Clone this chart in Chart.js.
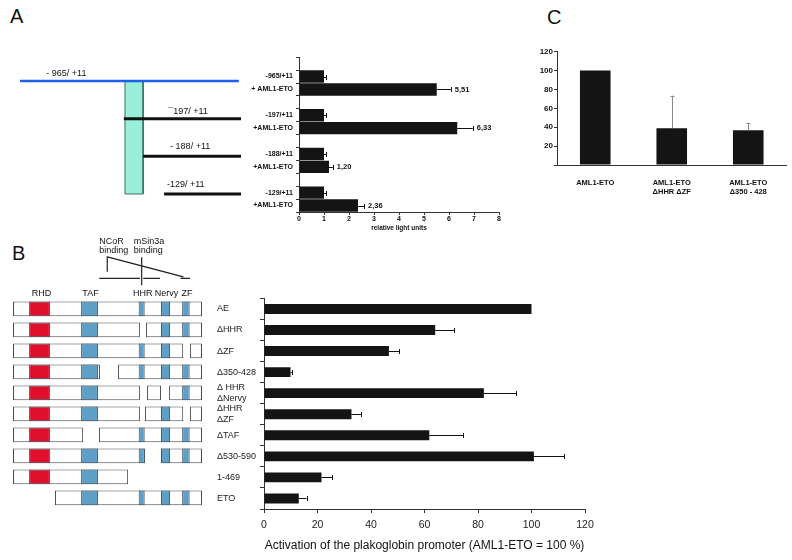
<!DOCTYPE html>
<html>
<head>
<meta charset="utf-8">
<script src="https://cdn.jsdelivr.net/npm/chart.js@4.4.1/dist/chart.umd.min.js"></script>
<style>
body { margin: 0; background: #fff; width: 792px; height: 560px; position: relative; overflow: hidden;
       font-family: "Liberation Sans", Arial, sans-serif; }
canvas { position: absolute; }
.panel { position: absolute; font-size: 20px; line-height: 20px; color: #111; }
</style>
</head>
<body>
<div class="panel" style="left:10px;top:6px">A</div>
<div class="panel" style="left:12px;top:243px">B</div>
<div class="panel" style="left:547px;top:7px">C</div>

<canvas id="promoterMap" width="260" height="170" style="left:0;top:50px"></canvas>
<canvas id="rluChart" width="290" height="185" style="left:230px;top:50px"></canvas>
<canvas id="constructMap" width="215" height="285" style="left:0;top:230px"></canvas>
<canvas id="activationChart" width="400" height="265" style="left:210px;top:290px"></canvas>
<canvas id="deletionChart" width="262" height="165" style="left:530px;top:40px"></canvas>

<script>
// ---- panel A: promoter fragments (schematic units, 100 = +11)
const promoterLabels = ['- 965/ +11', '\u00af197/ +11', '- 188/ +11', '-129/ +11'];
const promoterStart = [0, 47, 55.7, 65.2];
const promoterEnd = [99, 100, 100, 100];
const promoterLabelAt = [21, 76, 77, 75];
const boxRange = [47.5, 55.7];
const boxRows = [0, 3];

// ---- panel A: luciferase assay
const rluLabels = ['-965/+11', '+ AML1-ETO', '-197/+11', '+AML1-ETO', '-188/+11', '+AML1-ETO', '-129/+11', '+AML1-ETO'];
const rluValues = [1, 5.51, 1, 6.33, 1, 1.20, 1, 2.36];
const rluErrors = [0.08, 0.56, 0.08, 0.62, 0.08, 0.15, 0.08, 0.24];
const rluText = ['', '5,51', '', '6,33', '', '1,20', '', '2,36'];

// ---- panel B: constructs and activation
const constructs = ['AE', '\u0394HHR', '\u0394ZF', '\u0394350-428', ['\u0394 HHR', '\u0394Nervy'], ['\u0394HHR', '\u0394ZF'], '\u0394TAF', '\u0394530-590', '1-469', 'ETO'];
const activation = [100, 64, 46.7, 9.9, 82.2, 32.7, 61.8, 100.9, 21.5, 13];
const activationErr = [0, 7, 3.8, 0.5, 12, 3.5, 12.7, 11.4, 4.1, 2.9];

// amino acid positions
const segment1 = [[0, 752], [0, 505], [0, 677], [0, 346], [0, 505], [0, 505], [0, 279], [0, 525], [0, 458], [167, 752]];
const segment2 = [null, [529, 752], [704, 752], [418, 752], [533, 589], [525, 677], [342, 752], [589, 752], null, null];
const segment3 = [null, null, null, null, [621, 752], [704, 752], null, null, null, null];
const domainNames = ['RHD', 'TAF', 'HHR', 'Nervy', 'ZF'];
const domainRange = [[64, 147], [271, 338], [500, 524], [589, 625], [673, 703]];
const domainKept = [
  [1, 1, 1, 1, 1],
  [1, 1, 0, 1, 1],
  [1, 1, 1, 1, 0],
  [1, 1, 1, 1, 1],
  [1, 1, 0, 0, 1],
  [1, 1, 0, 1, 0],
  [1, 0, 1, 1, 1],
  [1, 1, 1, 1, 1],
  [1, 1, 0, 0, 0],
  [0, 1, 1, 1, 1]
];
const ncorRegion = [343, 505];
const sin3aRegions = [[518, 585], [667, 704]];
const ncorMark = 375, sin3aMark = 512, slopeEnd = 678;

// ---- panel C
const deletionLabels = ['AML1-ETO', ['AML1-ETO', '\u0394HHR \u0394ZF'], ['AML1-ETO', '\u0394350 - 428']];
const deletionValues = [100, 38.9, 36.7];
const deletionErr = [0, 34.5, 7.8];

Chart.defaults.font.family = '"Liberation Sans", Arial, sans-serif';
Chart.defaults.color = '#111';
Chart.defaults.animation = false;
Chart.defaults.responsive = false;
Chart.defaults.plugins.legend.display = false;
Chart.defaults.plugins.tooltip.enabled = false;

// draws one-sided error bars and optional value text
const errorBars = {
  id: 'errorBars',
  afterDatasetsDraw(chart, args, opts) {
    const ctx = chart.ctx;
    const horizontal = chart.options.indexAxis === 'y';
    const vScale = horizontal ? chart.scales.x : chart.scales.y;
    chart.data.datasets.forEach((ds, di) => {
      if (!ds.errors) return;
      chart.getDatasetMeta(di).data.forEach((bar, i) => {
        const v = ds.data[i], e = ds.errors[i];
        if (v == null) return;
        const p0 = vScale.getPixelForValue(v), p1 = vScale.getPixelForValue(v + (e || 0));
        ctx.save();
        ctx.strokeStyle = opts.color;
        ctx.lineWidth = 1;
        if (e) {
          ctx.beginPath();
          if (horizontal) {
            const y = Math.round(bar.y) + 0.5;
            ctx.moveTo(p0, y); ctx.lineTo(p1, y);
            ctx.moveTo(Math.round(p1) + 0.5, y - opts.cap); ctx.lineTo(Math.round(p1) + 0.5, y + opts.cap);
          } else {
            const x = Math.round(bar.x) + 0.5;
            ctx.moveTo(x, p0); ctx.lineTo(x, p1);
            ctx.moveTo(x - opts.cap, Math.round(p1) + 0.5); ctx.lineTo(x + opts.cap, Math.round(p1) + 0.5);
          }
          ctx.stroke();
        }
        if (ds.valueText && ds.valueText[i]) {
          ctx.fillStyle = '#111';
          ctx.font = 'bold 7.5px "Liberation Sans", Arial';
          ctx.textBaseline = 'middle';
          ctx.fillText(ds.valueText[i], p1 + 4, bar.y);
        }
        ctx.restore();
      });
    });
  }
};

// ---- panel A schematic
const mapSets = promoterStart.map((s, i) => ({
  data: [{x: s, y: i}, {x: promoterEnd[i], y: i}],
  borderColor: i === 0 ? '#1f5ff0' : '#111',
  borderWidth: i === 0 ? 2.5 : 3,
  showLine: true, pointRadius: 0, clip: false, order: 0
}));
mapSets.push({
  data: [{x: boxRange[0], y: boxRows[0]}, {x: boxRange[1], y: boxRows[0]}, {x: boxRange[1], y: boxRows[1]},
         {x: boxRange[0], y: boxRows[1]}, {x: boxRange[0], y: boxRows[0]}],
  showLine: true, fill: 'shape', backgroundColor: '#98f0d8', borderColor: '#3f6e66', borderWidth: 1,
  pointRadius: 0, clip: false, order: 1
});
const mapLabels = {
  id: 'mapLabels',
  afterDraw(chart) {
    const ctx = chart.ctx, xs = chart.scales.x, ys = chart.scales.y;
    ctx.save();
    ctx.font = '9px "Liberation Sans", Arial';
    ctx.fillStyle = '#111';
    ctx.textAlign = 'center';
    ctx.textBaseline = 'bottom';
    promoterLabels.forEach((t, i) => ctx.fillText(t, xs.getPixelForValue(promoterLabelAt[i]), ys.getPixelForValue(i) - (i < 2 ? 3 : 5)));
    ctx.restore();
  }
};
new Chart(document.getElementById('promoterMap'), {
  type: 'scatter',
  data: {datasets: mapSets},
  options: {
    layout: {padding: {left: 20, right: 19, top: 31, bottom: 26}},
    scales: {
      x: {type: 'linear', min: 0, max: 100, display: false},
      y: {type: 'linear', min: 0, max: 3, reverse: true, display: false}
    }
  },
  plugins: [mapLabels]
});

// ---- panel A bars (with an empty slot above each pair)
const slotLabels = [], slotValues = [], slotErr = [], slotText = [];
rluLabels.forEach((l, i) => {
  if (i % 2 === 0) { slotLabels.push(''); slotValues.push(null); slotErr.push(0); slotText.push(''); }
  slotLabels.push(l); slotValues.push(rluValues[i]); slotErr.push(rluErrors[i]); slotText.push(rluText[i]);
});
new Chart(document.getElementById('rluChart'), {
  type: 'bar',
  data: {labels: slotLabels, datasets: [{data: slotValues, errors: slotErr, valueText: slotText,
    backgroundColor: '#141414', barPercentage: 0.96, categoryPercentage: 1}]},
  options: {
    indexAxis: 'y',
    layout: {padding: {top: 6, right: 21, left: 0, bottom: 0}},
    plugins: {errorBars: {color: '#111', cap: 2.5}},
    scales: {
      x: {min: 0, max: 8, ticks: {stepSize: 1, font: {size: 7, weight: 'bold'}, padding: 0},
          grid: {drawOnChartArea: false, tickLength: 3, color: '#333'}, border: {color: '#333'},
          title: {display: true, text: 'relative light units', font: {size: 6.5, weight: 'bold'}, padding: {top: 0, bottom: 3}},
          afterFit: s => { s.height = 23; }},
      y: {ticks: {font: {size: 7, weight: 'bold'}, padding: 3, autoSkip: false},
          grid: {drawOnChartArea: false, tickLength: 3, color: '#333'}, border: {color: '#333'},
          afterFit: s => { s.width = 69; }}
    }
  },
  plugins: [errorBars]
});

// ---- panel B schematic
const domainColors = ['#e0102c', '#5d9fc6', '#5d9fc6', '#5d9fc6', '#5d9fc6'];
const constructSets = domainNames.map((name, d) => ({
  label: name,
  data: domainKept.map(row => row[d] ? domainRange[d] : null),
  backgroundColor: domainColors[d], borderColor: '#3d5566', borderWidth: 1,
  borderSkipped: false, grouped: false, barPercentage: 0.7, categoryPercentage: 1, order: 0
}));
[segment1, segment2, segment3].forEach(seg => constructSets.push({
  data: seg, backgroundColor: '#fff', borderColor: '#4a4a4a', borderWidth: 1,
  borderSkipped: false, grouped: false, barPercentage: 0.7, categoryPercentage: 1, order: 1
}));
const bindingMarks = {
  id: 'bindingMarks',
  afterDraw(chart) {
    const ctx = chart.ctx, xs = chart.scales.x, top = chart.chartArea.top;
    const px = v => xs.getPixelForValue(v);
    ctx.save();
    ctx.fillStyle = '#111';
    ctx.font = '9px "Liberation Sans", Arial';
    ctx.textBaseline = 'bottom';
    ctx.textAlign = 'center';
    domainNames.forEach((n, d) => ctx.fillText(n, px((domainRange[d][0] + domainRange[d][1]) / 2) + (d === 0 ? 2 : 1), top));
    ctx.textAlign = 'left';
    ctx.textBaseline = 'middle';
    ctx.fillText('NCoR', px(ncorRegion[0]), top - 57);
    ctx.fillText('binding', px(ncorRegion[0]), top - 48);
    ctx.fillText('mSin3a', px(sin3aMark) - 8, top - 57);
    ctx.fillText('binding', px(sin3aMark) - 8, top - 48);
    ctx.strokeStyle = '#222';
    ctx.lineWidth = 1.2;
    ctx.beginPath();
    ctx.moveTo(px(ncorMark), top - 26.5); ctx.lineTo(px(ncorMark), top - 41.5); ctx.lineTo(px(slopeEnd), top - 21.5);
    ctx.moveTo(px(sin3aMark), top - 41); ctx.lineTo(px(sin3aMark), top - 13);
    ctx.moveTo(px(ncorRegion[0]), top - 20); ctx.lineTo(px(ncorRegion[1]), top - 20);
    sin3aRegions.forEach(r => { ctx.moveTo(px(r[0]), top - 20); ctx.lineTo(px(r[1]), top - 20); });
    ctx.stroke();
    ctx.restore();
  }
};
new Chart(document.getElementById('constructMap'), {
  type: 'bar',
  data: {labels: constructs.map(String), datasets: constructSets},
  options: {
    indexAxis: 'y',
    layout: {padding: {left: 13, right: 13, top: 68.3, bottom: 6.7}},
    scales: {
      x: {type: 'linear', min: 0, max: 752, display: false},
      y: {display: false}
    }
  },
  plugins: [bindingMarks]
});

// ---- panel B bars
new Chart(document.getElementById('activationChart'), {
  type: 'bar',
  data: {labels: constructs, datasets: [{data: activation, errors: activationErr,
    backgroundColor: '#141414', barPercentage: 0.47, categoryPercentage: 1}]},
  options: {
    indexAxis: 'y',
    layout: {padding: {top: 6, right: 25, left: 7, bottom: 0}},
    plugins: {errorBars: {color: '#111', cap: 2.5}},
    scales: {
      x: {min: 0, max: 120, ticks: {stepSize: 20, font: {size: 10.5}, padding: 6, color: '#222'},
          grid: {drawOnChartArea: false, tickLength: 4, color: '#333'}, border: {color: '#333'},
          title: {display: true, text: 'Activation of the plakoglobin promoter (AML1-ETO = 100 %)', font: {size: 12},
                  padding: {top: 0, bottom: 2}, color: '#111'},
          afterFit: s => { s.height = 46; }},
      y: {ticks: {font: {size: 9}, crossAlign: 'far', autoSkip: false, color: '#222'},
          grid: {drawOnChartArea: false, tickLength: 4, color: '#333'}, border: {color: '#333'},
          afterFit: s => { s.width = 47; }}
    }
  },
  plugins: [errorBars]
});

// ---- panel C
new Chart(document.getElementById('deletionChart'), {
  type: 'bar',
  data: {labels: deletionLabels, datasets: [{data: deletionValues, errors: deletionErr,
    backgroundColor: '#141414', barPercentage: 0.4, categoryPercentage: 1}]},
  options: {
    layout: {padding: {top: 11.7, right: 5.5, left: 0, bottom: 0}},
    plugins: {errorBars: {color: '#888', cap: 2}},
    scales: {
      x: {ticks: {font: {size: 7.5, weight: 'bold'}, padding: 5.5},
          grid: {display: false}, border: {display: true, color: '#333'},
          afterFit: s => { s.height = 40; }},
      y: {min: 0, max: 120, ticks: {stepSize: 20, font: {size: 8, weight: 'bold'}, padding: 1,
          callback: v => v === 0 ? '' : v},
          grid: {drawOnChartArea: false, tickLength: 3, color: '#333'}, border: {color: '#333'},
          afterFit: s => { s.width = 27; }}
    }
  },
  plugins: [errorBars]
});
</script>
</body>
</html>
